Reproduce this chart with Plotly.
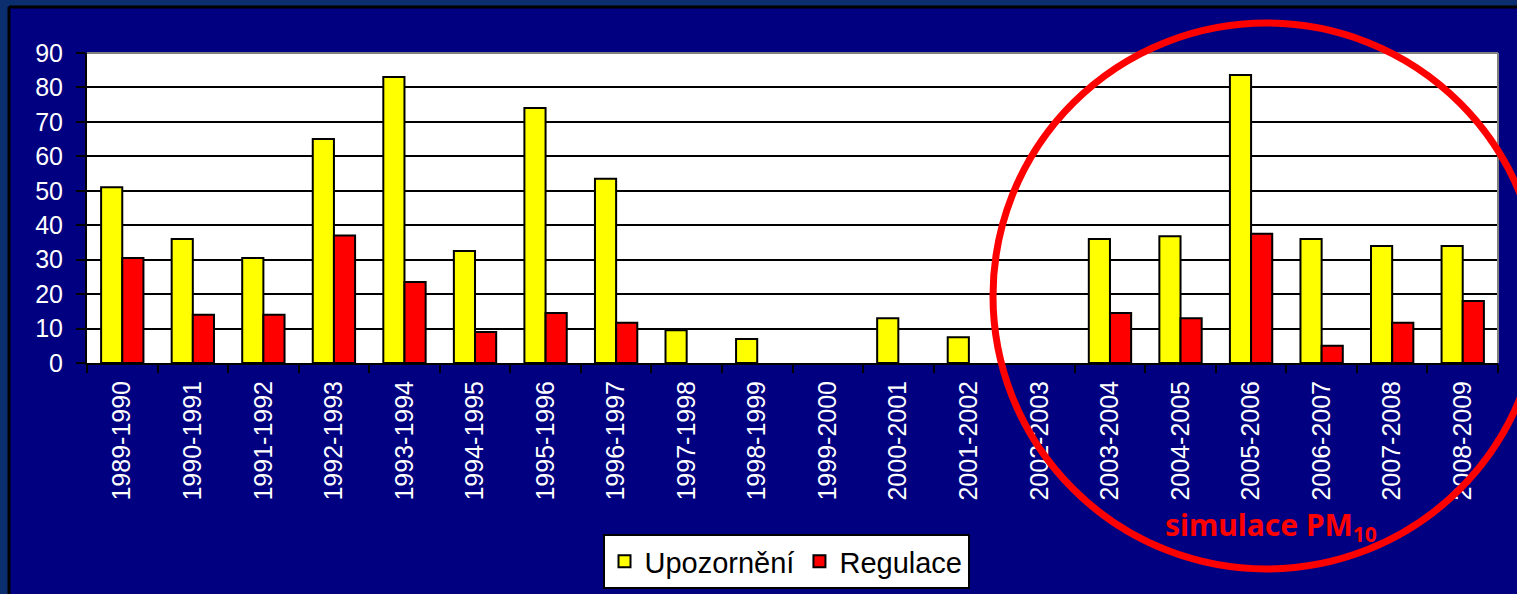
import plotly.graph_objects as go

seasons = ["1989-1990", "1990-1991", "1991-1992", "1992-1993", "1993-1994",
           "1994-1995", "1995-1996", "1996-1997", "1997-1998", "1998-1999",
           "1999-2000", "2000-2001", "2001-2002", "2002-2003", "2003-2004",
           "2004-2005", "2005-2006", "2006-2007", "2007-2008", "2008-2009"]
# None = no bar shown for that season
upozorneni = [51, 36, 30.5, 65, 83, 32.5, 74, 53.5, 9.5, 7,
              None, 13, 7.5, None, 36, 36.8, 83.6, 36, 34, 34]
regulace = [30.5, 14, 14, 37, 23.5, 9, 14.5, 11.7, None, None,
            None, None, None, None, 14.5, 13, 37.5, 5, 11.7, 18]
y_ticks = [0, 10, 20, 30, 40, 50, 60, 70, 80, 90]

W, H = 1517, 594
L, R, T, B = 87, 19, 53, 231
pw, ph = W - L - R, H - T - B

def px(xp):
    return (xp - L) / pw

def py(yp):
    return (H - B - yp) / ph

fig = go.Figure()
fig.add_trace(go.Bar(name="Upozornění", x=seasons, y=upozorneni,
                     marker=dict(color="#ffff00", line=dict(color="black", width=2))))
fig.add_trace(go.Bar(name="Regulace", x=seasons, y=regulace,
                     marker=dict(color="#ff0000", line=dict(color="black", width=2))))

font = "Liberation Sans, Arial, sans-serif"
fig.update_layout(
    width=W, height=H,
    margin=dict(l=L, r=R, t=T, b=B, autoexpand=False),
    paper_bgcolor="#000080", plot_bgcolor="white",
    barmode="group", bargap=0.4, bargroupgap=0,
    font=dict(family=font, color="white", size=25),
    showlegend=True,
    legend=dict(orientation="h", x=px(786), xanchor="center", y=py(534), yanchor="top",
                bgcolor="white", bordercolor="black", borderwidth=2,
                font=dict(family=font, size=29, color="black"),
                itemsizing="constant", itemwidth=30),
    xaxis=dict(type="category", tickangle=-90, tickson="boundaries",
               ticks="outside", ticklen=8, tickwidth=2, tickcolor="black",
               showline=True, linecolor="black", linewidth=2,
               showgrid=False, ticklabelstandoff=6,
               tickfont=dict(family=font, size=25, color="white")),
    yaxis=dict(range=[0, 90], tickvals=y_ticks, ticks="outside", ticklen=9,
               tickwidth=2, tickcolor="black", showline=True, linecolor="black",
               linewidth=2, showgrid=True, gridcolor="black", gridwidth=2,
               zeroline=False, ticklabelstandoff=8,
               tickfont=dict(family=font, size=25, color="white")),
)

outer = "#0b2f6e"
shapes = [
    # outer frame strips
    dict(type="rect", xref="paper", yref="paper", x0=px(-5), x1=px(8), y0=py(H + 5), y1=py(-5),
         fillcolor=outer, line=dict(width=0), layer="above"),
    dict(type="rect", xref="paper", yref="paper", x0=px(-5), x1=px(W + 5), y0=py(6), y1=py(-5),
         fillcolor=outer, line=dict(width=0), layer="above"),
    dict(type="line", xref="paper", yref="paper", x0=px(9), x1=px(9), y0=py(H + 5), y1=py(7),
         line=dict(color="black", width=3), layer="above"),
    dict(type="line", xref="paper", yref="paper", x0=px(9), x1=px(W + 5), y0=py(7), y1=py(7),
         line=dict(color="black", width=3), layer="above"),
    # plot area top/right grey edge
    dict(type="line", xref="paper", yref="paper", x0=0, x1=1, y0=1, y1=1,
         line=dict(color="#808080", width=2), layer="above"),
    dict(type="line", xref="paper", yref="paper", x0=1, x1=1, y0=0, y1=1,
         line=dict(color="#808080", width=2), layer="above"),
    # red circle highlight
    dict(type="circle", xref="paper", yref="paper", x0=px(993), x1=px(1540),
         y0=py(569), y1=py(23), line=dict(color="#ff0000", width=7), layer="above"),
]
fig.update_layout(shapes=shapes)

fig.add_annotation(xref="paper", yref="paper", x=px(1271), y=py(526),
                   text="<b>simulace PM<sub>10</sub></b>", showarrow=False,
                   xanchor="center", yanchor="middle",
                   font=dict(family="Comic Sans MS, Noto Sans, sans-serif", size=30, color="#ff0000"))

fig.write_html("out.html")
